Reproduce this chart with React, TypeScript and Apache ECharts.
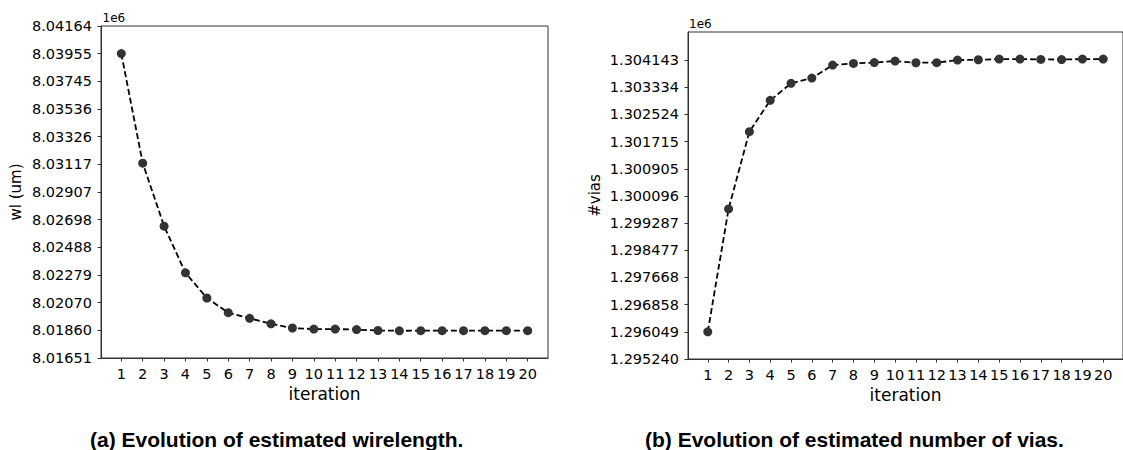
import React, { useEffect, useRef } from "react";
import * as echarts from "echarts";

const iterations = [1, 2, 3, 4, 5, 6, 7, 8, 9, 10, 11, 12, 13, 14, 15, 16, 17, 18, 19, 20];

// wirelength, in units of 1e6 um
const wlValues = [
  8.03955, 8.03126, 8.02649, 8.02296, 8.02105, 8.01994, 8.01951, 8.0191, 8.01878, 8.0187,
  8.0187, 8.01866, 8.01859, 8.01857, 8.01858, 8.01858, 8.01858, 8.01858, 8.01858, 8.01858,
];

// number of vias, in units of 1e6
const viaValues = [
  1.296049, 1.299711, 1.30201, 1.302944, 1.30345, 1.303608, 1.303994, 1.304045, 1.30407, 1.304114,
  1.304064, 1.304067, 1.304143, 1.304153, 1.304173, 1.304173, 1.304163, 1.30416, 1.304173, 1.304173,
];

const wlTickLabels = [
  "8.01651", "8.01860", "8.02070", "8.02279", "8.02488", "8.02698", "8.02907",
  "8.03117", "8.03326", "8.03536", "8.03745", "8.03955", "8.04164",
];

const viaTickLabels = [
  "1.295240", "1.296049", "1.296858", "1.297668", "1.298477", "1.299287",
  "1.300096", "1.300905", "1.301715", "1.302524", "1.303334", "1.304143",
];

const viaAxisMax = 1.30498;

const FONT = "DejaVu Sans";
const TITLE_FONT = "Liberation Sans";

function nearestLabel(labels: string[], v: number): string {
  let best = labels[0];
  let bd = Infinity;
  for (const l of labels) {
    const d = Math.abs(parseFloat(l) - v);
    if (d < bd) {
      bd = d;
      best = l;
    }
  }
  return best;
}

export default function App() {
  const ref = useRef<HTMLDivElement>(null);

  useEffect(() => {
    document.body.style.margin = "0";
    if (!ref.current) return;
    const chart = echarts.init(ref.current, undefined, { renderer: "svg" });

    const wlTicks = wlTickLabels.map((s) => parseFloat(s));
    const viaTicks = viaTickLabels.map((s) => parseFloat(s));

    const xAxisBase = (gridIndex: number) => ({
      type: "value" as const,
      gridIndex,
      min: 0.05,
      max: 20.95,
      name: "iteration",
      nameLocation: "middle" as const,
      nameGap: 27,
      nameTextStyle: { fontFamily: FONT, fontSize: 17, color: "#000" },
      axisLine: { show: true, lineStyle: { color: "#333", width: 1 } },
      axisTick: {
        show: true,
        length: 3.5,
        lineStyle: { color: "#333", width: 1 },
        customValues: iterations,
      },
      axisLabel: {
        show: true,
        customValues: iterations,
        margin: 8,
        fontFamily: FONT,
        fontSize: 14.5,
        color: "#000",
        formatter: (v: number) => String(Math.round(v)),
      },
      splitLine: { show: false },
    });

    const option = {
      animation: false,
      backgroundColor: "#fff",
      grid: [
        {
          left: 101,
          top: 26,
          width: 447,
          height: 332,
          show: true,
          borderColor: "#333",
          borderWidth: 1,
          containLabel: false,
        },
        {
          left: 688,
          top: 32,
          right: -4,
          height: 327,
          show: true,
          borderColor: "#333",
          borderWidth: 1,
          containLabel: false,
        },
      ],
      xAxis: [xAxisBase(0), xAxisBase(1)],
      yAxis: [
        {
          type: "value",
          gridIndex: 0,
          min: wlTicks[0],
          max: wlTicks[wlTicks.length - 1],
          name: "wl (um)",
          nameLocation: "middle",
          nameGap: 78,
          nameTextStyle: { fontFamily: FONT, fontSize: 15, color: "#000" },
          axisLine: { show: true, lineStyle: { color: "#333", width: 1 } },
          axisTick: {
            show: true,
            length: 3.5,
            lineStyle: { color: "#333", width: 1 },
            customValues: wlTicks,
          },
          axisLabel: {
            show: true,
            customValues: wlTicks,
            margin: 9,
            fontFamily: FONT,
            fontSize: 14.5,
            color: "#000",
            formatter: (v: number) => nearestLabel(wlTickLabels, v),
          },
          splitLine: { show: false },
        },
        {
          type: "value",
          gridIndex: 1,
          min: viaTicks[0],
          max: viaAxisMax,
          name: "#vias",
          nameLocation: "middle",
          nameGap: 86,
          nameTextStyle: { fontFamily: FONT, fontSize: 15, color: "#000" },
          axisLine: { show: true, lineStyle: { color: "#333", width: 1 } },
          axisTick: {
            show: true,
            length: 3.5,
            lineStyle: { color: "#333", width: 1 },
            customValues: viaTicks,
          },
          axisLabel: {
            show: true,
            customValues: viaTicks,
            margin: 9,
            fontFamily: FONT,
            fontSize: 14.5,
            color: "#000",
            formatter: (v: number) => nearestLabel(viaTickLabels, v),
          },
          splitLine: { show: false },
        },
      ],
      series: [
        {
          type: "line",
          xAxisIndex: 0,
          yAxisIndex: 0,
          data: iterations.map((it, i) => [it, wlValues[i]]),
          symbol: "circle",
          symbolSize: 9,
          itemStyle: { color: "#333333" },
          lineStyle: { color: "#000", width: 1.8, type: [6, 3] },
          silent: true,
        },
        {
          type: "line",
          xAxisIndex: 1,
          yAxisIndex: 1,
          data: iterations.map((it, i) => [it, viaValues[i]]),
          symbol: "circle",
          symbolSize: 9,
          itemStyle: { color: "#333333" },
          lineStyle: { color: "#000", width: 1.8, type: [6, 3] },
          silent: true,
        },
      ],
      graphic: [
        {
          type: "text",
          x: 102.5,
          y: 18.3,
          style: { text: "1e6", fontFamily: FONT, fontSize: 12, fill: "#000", verticalAlign: "middle" },
        },
        {
          type: "text",
          x: 689,
          y: 24.3,
          style: { text: "1e6", fontFamily: FONT, fontSize: 12, fill: "#000", verticalAlign: "middle" },
        },
        {
          type: "text",
          x: 90,
          y: 439,
          style: {
            text: "(a) Evolution of estimated wirelength.",
            fontFamily: TITLE_FONT,
            fontWeight: "bold",
            fontSize: 21,
            fill: "#000",
            verticalAlign: "middle",
          },
        },
        {
          type: "text",
          x: 645,
          y: 439,
          style: {
            text: "(b) Evolution of estimated number of vias.",
            fontFamily: TITLE_FONT,
            fontWeight: "bold",
            fontSize: 21,
            fill: "#000",
            verticalAlign: "middle",
          },
        },
      ],
    };

    chart.setOption(option as any);
    return () => chart.dispose();
  }, []);

  return <div ref={ref} style={{ width: 1123, height: 450 }} />;
}
